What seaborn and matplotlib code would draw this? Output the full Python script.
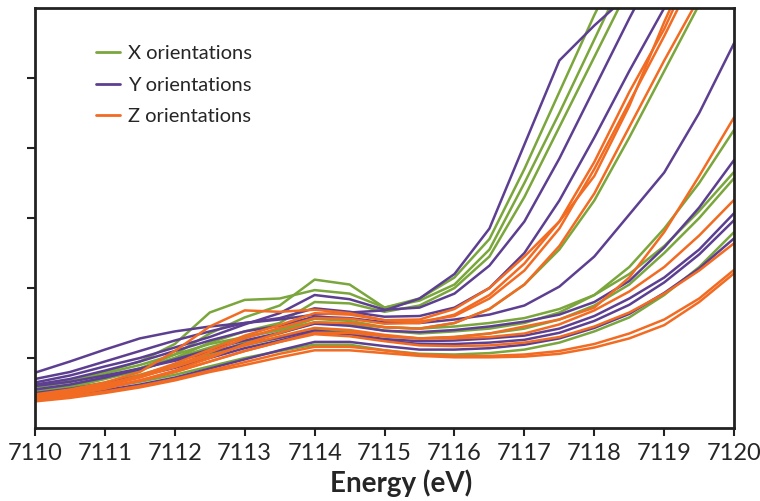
import numpy as np
import pandas as pd
import matplotlib
matplotlib.use("Agg")
import matplotlib.pyplot as plt
from matplotlib.lines import Line2D
import seaborn as sns

energy = [7110, 7110.5, 7111, 7111.5, 7112, 7112.5, 7113, 7113.5, 7114, 7114.5,
          7115, 7115.5, 7116, 7116.5, 7117, 7117.5, 7118, 7118.5, 7119, 7119.5, 7120]

x_orient = [
    [0.55, 0.62, 0.72, 0.85, 1.05, 1.35, 1.58, 1.75, 2.12, 2.05, 1.72, 1.85, 2.15, 2.70, 3.70, 4.80, 5.90, 6.90, 7.8, 8.6, 9.4],
    [0.60, 0.68, 0.80, 0.95, 1.20, 1.65, 1.83, 1.85, 1.97, 1.92, 1.72, 1.82, 2.05, 2.55, 3.50, 4.50, 5.55, 6.60, 7.5, 8.3, 9.0],
    [0.50, 0.58, 0.70, 0.82, 1.00, 1.22, 1.38, 1.50, 1.80, 1.78, 1.66, 1.75, 2.00, 2.45, 3.30, 4.30, 5.30, 6.30, 7.2, 8.0, 8.8],
    [0.52, 0.60, 0.72, 0.85, 1.00, 1.15, 1.30, 1.40, 1.56, 1.53, 1.44, 1.42, 1.50, 1.70, 2.05, 2.55, 3.25, 4.15, 5.10, 6.05, 7.0],
    [0.45, 0.52, 0.62, 0.74, 0.88, 1.05, 1.22, 1.35, 1.50, 1.48, 1.39, 1.35, 1.38, 1.42, 1.50, 1.65, 1.90, 2.30, 2.85, 3.50, 4.26],
    [0.58, 0.66, 0.78, 0.90, 1.05, 1.20, 1.30, 1.40, 1.51, 1.49, 1.44, 1.42, 1.45, 1.50, 1.57, 1.70, 1.90, 2.20, 2.60, 3.10, 3.66],
    [0.50, 0.56, 0.65, 0.76, 0.90, 1.05, 1.18, 1.29, 1.41, 1.38, 1.31, 1.28, 1.30, 1.35, 1.42, 1.55, 1.75, 2.05, 2.50, 3.00, 3.57],
    [0.45, 0.50, 0.58, 0.66, 0.76, 0.88, 1.00, 1.10, 1.19, 1.19, 1.11, 1.06, 1.05, 1.07, 1.12, 1.22, 1.38, 1.58, 1.90, 2.30, 2.80],
]

y_orient = [
    [0.79, 0.95, 1.12, 1.28, 1.38, 1.45, 1.50, 1.55, 1.62, 1.65, 1.68, 1.85, 2.20, 2.85, 4.05, 5.25, 5.75, 6.20, 6.6, 7.0, 7.4],
    [0.65, 0.75, 0.88, 1.00, 1.15, 1.30, 1.48, 1.64, 1.90, 1.84, 1.69, 1.72, 1.92, 2.32, 2.95, 3.85, 4.85, 5.85, 6.8, 7.6, 8.4],
    [0.70, 0.80, 0.95, 1.10, 1.25, 1.38, 1.50, 1.57, 1.71, 1.66, 1.59, 1.60, 1.72, 2.00, 2.50, 3.25, 4.15, 5.10, 6.00, 6.9, 7.8],
    [0.62, 0.70, 0.82, 0.95, 1.10, 1.25, 1.38, 1.46, 1.59, 1.57, 1.51, 1.50, 1.55, 1.62, 1.75, 2.02, 2.45, 3.05, 3.65, 4.50, 5.50],
    [0.55, 0.62, 0.72, 0.84, 0.98, 1.12, 1.25, 1.36, 1.49, 1.46, 1.39, 1.37, 1.40, 1.45, 1.52, 1.62, 1.80, 2.10, 2.58, 3.15, 3.83],
    [0.50, 0.56, 0.64, 0.74, 0.86, 1.00, 1.14, 1.25, 1.37, 1.34, 1.27, 1.24, 1.25, 1.28, 1.32, 1.42, 1.60, 1.85, 2.15, 2.55, 3.07],
    [0.60, 0.66, 0.75, 0.85, 0.96, 1.08, 1.20, 1.29, 1.39, 1.35, 1.25, 1.20, 1.20, 1.22, 1.26, 1.36, 1.53, 1.76, 2.08, 2.48, 2.97],
    [0.42, 0.47, 0.54, 0.62, 0.72, 0.85, 0.98, 1.11, 1.23, 1.23, 1.17, 1.12, 1.12, 1.14, 1.19, 1.28, 1.43, 1.63, 1.93, 2.28, 2.71],
]

z_orient = [
    [0.45, 0.52, 0.62, 0.75, 0.92, 1.12, 1.32, 1.47, 1.64, 1.62, 1.54, 1.55, 1.70, 2.00, 2.45, 2.95, 3.60, 4.60, 5.80, 6.9, 7.9],
    [0.42, 0.50, 0.60, 0.72, 0.88, 1.08, 1.28, 1.43, 1.57, 1.56, 1.49, 1.50, 1.62, 1.90, 2.35, 2.95, 3.80, 4.80, 5.70, 6.8, 7.8],
    [0.48, 0.55, 0.65, 0.80, 1.10, 1.45, 1.68, 1.66, 1.69, 1.64, 1.54, 1.52, 1.60, 1.85, 2.25, 2.85, 3.70, 4.65, 5.60, 6.6, 7.6],
    [0.40, 0.47, 0.56, 0.68, 0.82, 1.00, 1.20, 1.36, 1.51, 1.50, 1.44, 1.42, 1.50, 1.70, 2.05, 2.60, 3.35, 4.30, 5.25, 6.15, 7.1],
    [0.44, 0.50, 0.58, 0.68, 0.80, 0.95, 1.10, 1.23, 1.36, 1.36, 1.31, 1.28, 1.30, 1.35, 1.45, 1.55, 1.72, 2.15, 2.80, 3.60, 4.44],
    [0.47, 0.53, 0.62, 0.73, 0.87, 1.03, 1.18, 1.31, 1.43, 1.40, 1.33, 1.28, 1.28, 1.30, 1.35, 1.48, 1.68, 1.95, 2.30, 2.75, 3.26],
    [0.43, 0.49, 0.57, 0.67, 0.80, 0.95, 1.10, 1.23, 1.34, 1.31, 1.24, 1.18, 1.17, 1.18, 1.22, 1.30, 1.45, 1.65, 1.92, 2.25, 2.64],
    [0.40, 0.45, 0.52, 0.60, 0.70, 0.82, 0.94, 1.06, 1.16, 1.16, 1.11, 1.05, 1.03, 1.03, 1.05, 1.10, 1.20, 1.35, 1.55, 1.85, 2.26],
    [0.38, 0.43, 0.50, 0.58, 0.68, 0.80, 0.90, 1.01, 1.11, 1.11, 1.07, 1.03, 1.01, 1.01, 1.02, 1.06, 1.15, 1.28, 1.47, 1.80, 2.21],
]

series_labels = ["X orientations", "Y orientations", "Z orientations"]
colors = ["#7aa63c", "#5d3f92", "#f26b22"]

rows = []
for label, group in zip(series_labels, [x_orient, y_orient, z_orient]):
    for i, curve in enumerate(group):
        for e, v in zip(energy, curve):
            rows.append({"Energy": e, "Absorbance": v, "orientation": label,
                         "curve": f"{label[0]}{i}"})
df = pd.DataFrame(rows)

sns.set_theme(style="white")
plt.rcParams['font.family'] = ['Lato', 'DejaVu Sans']

fig = plt.figure(figsize=(7.6, 5.01), dpi=100)
ax = fig.add_axes([0.046, 0.1457, 0.92, 0.8383])

sns.lineplot(data=df, x="Energy", y="Absorbance", hue="orientation",
             units="curve", estimator=None, palette=colors,
             hue_order=series_labels, linewidth=1.8, legend=False, ax=ax)

ax.set_xlim(7110, 7120)
ax.set_ylim(0, 6)
ax.set_xticks(range(7110, 7121))
ax.set_xticklabels([str(t) for t in range(7110, 7121)], fontsize=17)
ax.set_yticks([1, 2, 3, 4, 5])
ax.set_yticklabels([])
ax.set_ylabel("")
ax.set_xlabel("Energy (eV)", fontsize=20, fontweight="bold")
ax.xaxis.set_label_coords(0.524, -0.098)
ax.tick_params(axis="both", direction="out", length=6, width=1.5,
               color="#222222", bottom=True, left=True, pad=5)
for sp in ax.spines.values():
    sp.set_color("#222222")
    sp.set_linewidth(2)

handles = [Line2D([0], [0], color=c, lw=2) for c in colors]
ax.legend(handles, series_labels, loc="upper left", frameon=False,
          fontsize=14.5, handlelength=1.2, handletextpad=0.4,
          labelspacing=0.72, bbox_to_anchor=(0.061, 0.955))

fig.savefig("out.png", dpi=100)
